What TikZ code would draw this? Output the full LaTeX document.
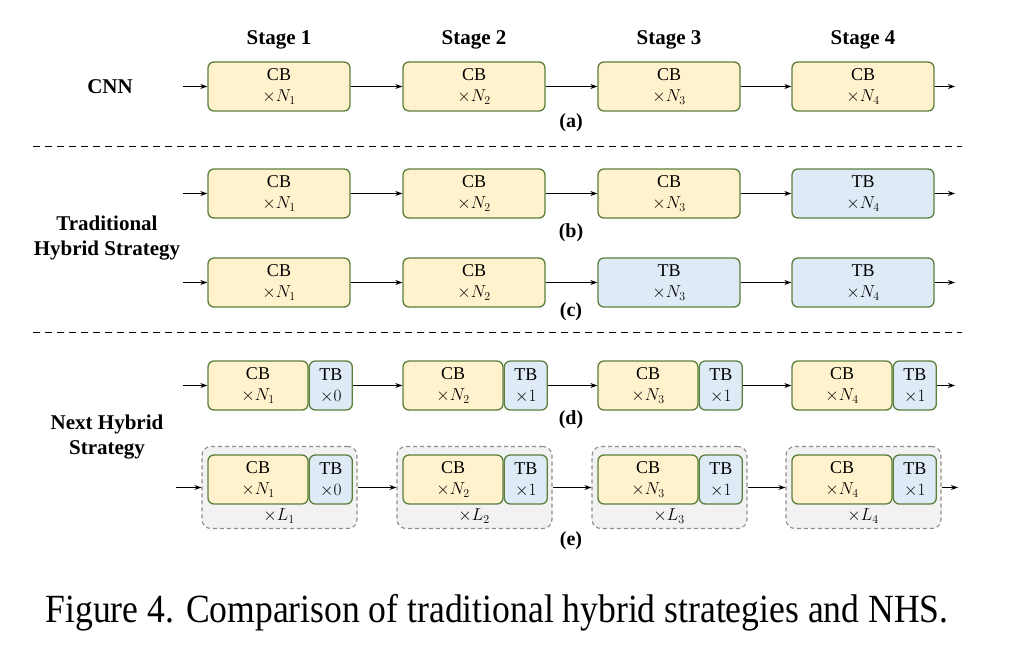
\documentclass[tikz,border=0pt]{standalone}
\usepackage{fontspec}
\setmainfont{Liberation Serif}
\usetikzlibrary{arrows.meta,positioning}
\definecolor{cbfill}{HTML}{FFF2CC}
\definecolor{tbfill}{HTML}{DEEBF7}
\definecolor{blkline}{HTML}{5A7F3B}
\definecolor{grpfill}{HTML}{F2F2F2}
\definecolor{grpline}{HTML}{8C8C8C}
\tikzset{
  blk/.style={draw=blkline, line width=1.3pt, rounded corners=6pt, minimum height=49pt,
    align=center, inner sep=0pt, font=\fontsize{18}{21}\selectfont},
  grp/.style={draw=grpline, dash pattern=on 4pt off 3pt, line width=1.1pt, fill=grpfill,
    rounded corners=9pt, minimum width=155pt, minimum height=82pt},
  flow/.style={-{Stealth[length=7pt,width=5pt]}, line width=1.1pt},
  hdr/.style={font=\fontsize{21}{25}\selectfont\bfseries, align=center},
  tag/.style={font=\fontsize{20}{22}\selectfont\bfseries},
  sep/.style={dash pattern=on 7pt off 5pt, line width=1.2pt}
}
\begin{document}
\begin{tikzpicture}[x=1pt,y=-1pt]
\useasboundingbox (0,0) rectangle (1009,666);
% headers and row titles
\foreach \i/\x in {1/279,2/474,3/669,4/863}
  \node[hdr] (st\i) at (\x,40) {Stage \i};
\node[hdr] (cnn) at (110,87) {CNN};
\node[hdr] (ths) at (107,238.5) {Traditional\\Hybrid Strategy};
\node[hdr] (nhs) at (107,437.5) {Next Hybrid\\Strategy};
% separators
\draw[sep] (33,146.5) -- (962,146.5);
\draw[sep] (33,332.5) -- (962,332.5);
% (a)
\foreach \i/\x in {1/279,2/474,3/669,4/863}
  \node[blk, fill=cbfill, minimum width=142pt] (a\i) at (\x,86.5) {CB\\$\times N_{\i}$};
\coordinate (a0) at (183,86.5);
\coordinate (a5) at (955,86.5);
\foreach \i/\j in {0/1,1/2,2/3,3/4,4/5}
  \draw[flow] (a\i) -- (a\j);
\node[tag] (ta) at (571,123) {(a)};
% (b) and (c)
\foreach \r/\y/\fc/\fd/\kc/\kd in {b/193.5/cbfill/tbfill/CB/TB, c/282.5/tbfill/tbfill/TB/TB}{
  \node[blk, fill=cbfill, minimum width=142pt] (\r1) at (279,\y) {CB\\$\times N_1$};
  \node[blk, fill=cbfill, minimum width=142pt] (\r2) at (474,\y) {CB\\$\times N_2$};
  \node[blk, fill=\fc, minimum width=142pt] (\r3) at (669,\y) {\kc\\$\times N_3$};
  \node[blk, fill=\fd, minimum width=142pt] (\r4) at (863,\y) {\kd\\$\times N_4$};
  \coordinate (\r0) at (183,\y);
  \coordinate (\r5) at (955,\y);
  \foreach \i/\j in {0/1,1/2,2/3,3/4,4/5}
    \draw[flow] (\r\i) -- (\r\j);
}
\node[tag] (tb) at (571,233) {(b)};
\node[tag] (tc) at (571,312) {(c)};
% (d)
\foreach \i/\x/\n in {1/279/0,2/474/1,3/669/1,4/863/1}{
  \node[blk, fill=cbfill, minimum width=100pt] (dc\i) at ({\x-21},385.5) {CB\\$\times N_{\i}$};
  \node[blk, fill=tbfill, minimum width=43pt, right=0pt of dc\i] (dt\i) {TB\\$\times \n$};
}
\coordinate (dt0) at (183,385.5);
\coordinate (dc5) at (955,385.5);
\foreach \i/\j in {0/1,1/2,2/3,3/4,4/5}
  \draw[flow] (dt\i) -- (dc\j);
\node[tag] (td) at (571,420) {(d)};
% (e)
\foreach \i/\x/\n in {1/279/0,2/474/1,3/669/1,4/863/1}{
  \node[grp] (eg\i) at ({\x+0.5},487.5) {};
  \node[blk, fill=cbfill, minimum width=100pt] (ec\i) at ({\x-21},479.5) {CB\\$\times N_{\i}$};
  \node[blk, fill=tbfill, minimum width=43pt, right=0pt of ec\i] (et\i) {TB\\$\times \n$};
  \node[font=\fontsize{18}{20}\selectfont] (el\i) at (\x,516) {$\times L_{\i}$};
}
\coordinate (eg0) at (176,487.5);
\coordinate (eg5) at (958,487.5);
\foreach \i/\j in {0/1,1/2,2/3,3/4,4/5}
  \draw[flow] (eg\i) -- (eg\j);
\node[tag] (te) at (571,541) {(e)};
% caption
\node (cap) at (497,613) {\scalebox{0.89}[1]{\fontsize{40}{44}\selectfont Figure 4. Comparison of traditional hybrid strategies and NHS.}};
\end{tikzpicture}
\end{document}
